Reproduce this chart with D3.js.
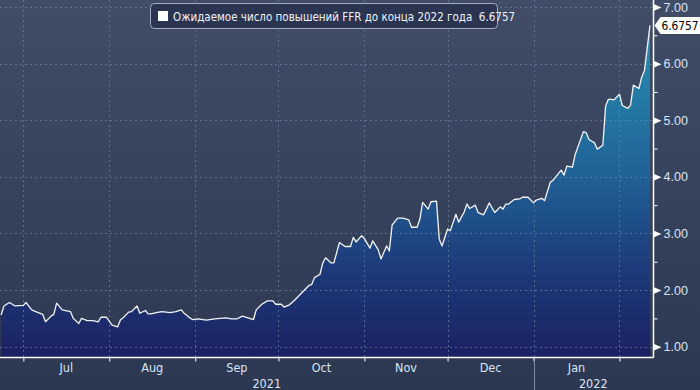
<!DOCTYPE html>
<html>
<head>
<meta charset="utf-8">
<script src="https://cdn.jsdelivr.net/npm/d3@7"></script>
<style>
    html, body { margin: 0; padding: 0; background: #323d57; }
    #chart { width: 700px; height: 390px; }
</style>
</head>
<body>
<div id="chart"></div>
<script>
// chart values
var dates = [
    "2021-06-23", "2021-06-24", "2021-06-26", "2021-06-28", "2021-07-01", "2021-07-02", "2021-07-04", "2021-07-05",
    "2021-07-08", "2021-07-09", "2021-07-11", "2021-07-12", "2021-07-13", "2021-07-15", "2021-07-18", "2021-07-19",
    "2021-07-21", "2021-07-22", "2021-07-24", "2021-07-26", "2021-07-28", "2021-07-29", "2021-07-31",
    "2021-08-02", "2021-08-04", "2021-08-05", "2021-08-06", "2021-08-08", "2021-08-09", "2021-08-11", "2021-08-12",
    "2021-08-14", "2021-08-15", "2021-08-16", "2021-08-18", "2021-08-20", "2021-08-23", "2021-08-25", "2021-08-27",
    "2021-08-28", "2021-08-30", "2021-08-31",
    "2021-09-02", "2021-09-05", "2021-09-08", "2021-09-12", "2021-09-14", "2021-09-16", "2021-09-18", "2021-09-20",
    "2021-09-22", "2021-09-23", "2021-09-25", "2021-09-27", "2021-09-29", "2021-09-30",
    "2021-10-02", "2021-10-03", "2021-10-05", "2021-10-07", "2021-10-09", "2021-10-12", "2021-10-13", "2021-10-14",
    "2021-10-16", "2021-10-17", "2021-10-18", "2021-10-20", "2021-10-21", "2021-10-23", "2021-10-25", "2021-10-27",
    "2021-10-28", "2021-10-29", "2021-10-31",
    "2021-11-01", "2021-11-03", "2021-11-04", "2021-11-06", "2021-11-07", "2021-11-09", "2021-11-10", "2021-11-11",
    "2021-11-13", "2021-11-15", "2021-11-17", "2021-11-18", "2021-11-20", "2021-11-21", "2021-11-22", "2021-11-24",
    "2021-11-25", "2021-11-27", "2021-11-28", "2021-11-29",
    "2021-12-01", "2021-12-02", "2021-12-04", "2021-12-05", "2021-12-07", "2021-12-08", "2021-12-09", "2021-12-11",
    "2021-12-12", "2021-12-14", "2021-12-15", "2021-12-16", "2021-12-18", "2021-12-19", "2021-12-20", "2021-12-21",
    "2021-12-22", "2021-12-23", "2021-12-25", "2021-12-27", "2021-12-28", "2021-12-30",
    "2022-01-01", "2022-01-02", "2022-01-04", "2022-01-05", "2022-01-07", "2022-01-08", "2022-01-09", "2022-01-11",
    "2022-01-12", "2022-01-13", "2022-01-15", "2022-01-16", "2022-01-17", "2022-01-19", "2022-01-20", "2022-01-21",
    "2022-01-23", "2022-01-24", "2022-01-26", "2022-01-27", "2022-01-28", "2022-01-29", "2022-01-30",
    "2022-02-01", "2022-02-02", "2022-02-04", "2022-02-05", "2022-02-06", "2022-02-08", "2022-02-09", "2022-02-10",
    "2022-02-12"
];

var hikes = [
    1.56, 1.72, 1.78, 1.72, 1.73, 1.78, 1.65, 1.63, 1.57, 1.44, 1.54, 1.57, 1.77, 1.65, 1.62, 1.50,
    1.41, 1.50, 1.46, 1.46, 1.44, 1.52, 1.52,
    1.38, 1.35, 1.47, 1.51, 1.61, 1.62, 1.72, 1.59, 1.64, 1.58, 1.58, 1.60, 1.62, 1.60, 1.62, 1.65,
    1.59, 1.51, 1.48,
    1.49, 1.47, 1.49, 1.51, 1.49, 1.49, 1.54, 1.51, 1.48, 1.65, 1.75, 1.81, 1.81, 1.75,
    1.75, 1.70, 1.74, 1.83, 1.93, 2.08, 2.10, 2.22, 2.28, 2.48, 2.57, 2.48, 2.48, 2.84, 2.77, 2.77,
    2.93, 2.85, 2.96,
    2.91, 2.74, 2.87, 2.71, 2.55, 2.78, 2.69, 3.15, 3.27, 3.27, 3.24, 3.11, 3.11, 3.25, 3.55, 3.43,
    3.56, 3.57, 2.90, 2.78,
    3.08, 3.05, 3.34, 3.20, 3.38, 3.52, 3.44, 3.50, 3.37, 3.33, 3.43, 3.54, 3.37, 3.42, 3.47, 3.43,
    3.52, 3.52, 3.60, 3.61, 3.64, 3.64,
    3.54, 3.59, 3.62, 3.58, 3.90, 3.94, 4.00, 4.12, 4.03, 4.19, 4.17, 4.39, 4.53, 4.80, 4.78, 4.66,
    4.60, 4.49, 4.56, 5.25, 5.37, 5.37, 5.36,
    5.46, 5.26, 5.21, 5.27, 5.62, 5.56, 5.76, 5.88, 6.6757
];

var seriesName = "Ожидаемое число повышений FFR до конца 2022 года";
var yTicks = [1, 2, 3, 4, 5, 6, 7];
var monthTicks = ["2021-07-01", "2021-08-01", "2021-09-01", "2021-10-01", "2021-11-01", "2021-12-01", "2022-01-01", "2022-02-01"];
var monthLabels = ["Jul", "Aug", "Sep", "Oct", "Nov", "Dec", "Jan"];
var years = ["2021", "2022"];

function chart() {

    var width = 700,
        height = 390,
        plotW = 653,
        plotH = 357;

    var parse = d3.timeParse("%Y-%m-%d");
    var data = dates.map(function (d, i) {
        return { date: parse(d), value: hikes[i] };
    });
    var last = data[data.length - 1];

    var svg = d3.select("#chart")
        .append("svg")
        .attr("width", width)
        .attr("height", height)
        .style("font-family", "'DejaVu Sans Condensed', 'DejaVu Sans', sans-serif");

    var defs = svg.append("defs");

    var bg = defs.append("linearGradient")
        .attr("id", "bg")
        .attr("x1", 0).attr("y1", 0).attr("x2", 0).attr("y2", 1);
    bg.append("stop").attr("offset", "0%").attr("stop-color", "#414c67");
    bg.append("stop").attr("offset", "100%").attr("stop-color", "#2c3852");

    var areaFill = defs.append("linearGradient")
        .attr("id", "areaFill")
        .attr("gradientUnits", "userSpaceOnUse")
        .attr("x1", 0).attr("y1", 0).attr("x2", 0).attr("y2", plotH);
    areaFill.append("stop").attr("offset", "0%").attr("stop-color", "#2b97b6");
    areaFill.append("stop").attr("offset", "45%").attr("stop-color", "#21679a");
    areaFill.append("stop").attr("offset", "75%").attr("stop-color", "#1d3b7a");
    areaFill.append("stop").attr("offset", "100%").attr("stop-color", "#1b2163");

    svg.append("rect")
        .attr("width", width)
        .attr("height", height)
        .attr("fill", "url(#bg)");

    var x = d3.scaleTime()
        .domain([new Date(2021, 5, 22, 14), new Date(2022, 1, 13, 2)])
        .range([0, plotW]);

    var y = d3.scaleLinear()
        .domain([0.818, 7.124])
        .range([plotH, 0]);

    var area = d3.area()
        .x(function (d) { return x(d.date); })
        .y0(plotH)
        .y1(function (d) { return y(d.value); });

    var line = d3.line()
        .x(function (d) { return x(d.date); })
        .y(function (d) { return y(d.value); });

    svg.append("path")
        .datum(data)
        .attr("d", area)
        .attr("fill", "url(#areaFill)");

    // dashed grid
    var grid = svg.append("g")
        .attr("stroke", "#6a8aa6")
        .attr("stroke-opacity", 0.65)
        .attr("stroke-width", 1)
        .attr("stroke-dasharray", "2,3");

    grid.selectAll(".hgrid")
        .data(yTicks)
        .enter()
        .append("line")
        .attr("x1", 0)
        .attr("x2", plotW)
        .attr("y1", function (d) { return Math.round(y(d)) + 0.5; })
        .attr("y2", function (d) { return Math.round(y(d)) + 0.5; });

    grid.selectAll(".vgrid")
        .data(monthTicks.map(parse))
        .enter()
        .append("line")
        .attr("x1", function (d) { return Math.round(x(d)) + 0.5; })
        .attr("x2", function (d) { return Math.round(x(d)) + 0.5; })
        .attr("y1", 0)
        .attr("y2", plotH);

    svg.append("path")
        .datum(data)
        .attr("d", line)
        .attr("fill", "none")
        .attr("stroke", "#f2f4f8")
        .attr("stroke-width", 1.3)
        .attr("stroke-linejoin", "round");

    // frame lines
    svg.append("line")
        .attr("x1", 0).attr("x2", plotW + 0.5)
        .attr("y1", plotH + 0.5).attr("y2", plotH + 0.5)
        .attr("stroke", "#ffffff").attr("stroke-width", 1.5);
    svg.append("line")
        .attr("x1", plotW + 0.5).attr("x2", plotW + 0.5)
        .attr("y1", 0).attr("y2", plotH + 0.5)
        .attr("stroke", "#ffffff").attr("stroke-width", 1.5);

    // right axis
    var yAxis = d3.axisRight(y)
        .tickValues(d3.range(1, 7.01, 0.5))
        .tickSize(4)
        .tickFormat(function (d) { return d % 1 === 0 ? d3.format(".2f")(d) : ""; });

    var ya = svg.append("g")
        .attr("transform", "translate(" + (plotW + 0.5) + ",0)")
        .call(yAxis);
    ya.select(".domain").remove();
    ya.selectAll(".tick line").attr("stroke", "#ffffff");
    ya.selectAll(".tick text")
        .attr("x", 10)
        .attr("fill", "#d9e5f5")
        .style("font-size", "12.5px");

    ya.selectAll(".tick")
        .filter(function (d) { return d % 1 === 0; })
        .append("path")
        .attr("d", "M0,-3.5L8,0L0,3.5Z")
        .attr("fill", "#ffffff");

    // bottom axis
    var xAxis = d3.axisBottom(x)
        .tickValues(monthTicks.map(parse))
        .tickSize(4)
        .tickFormat("");

    var xa = svg.append("g")
        .attr("transform", "translate(0," + (plotH + 0.5) + ")")
        .call(xAxis);
    xa.select(".domain").remove();
    xa.selectAll(".tick line").attr("stroke", "#ffffff");

    var monthStarts = monthTicks.map(parse);
    svg.append("g")
        .selectAll("text")
        .data(monthLabels)
        .enter()
        .append("text")
        .attr("x", function (d, i) { return (x(monthStarts[i]) + x(monthStarts[i + 1])) / 2; })
        .attr("y", 372)
        .attr("text-anchor", "middle")
        .attr("fill", "#d9e5f5")
        .style("font-size", "12.5px")
        .text(function (d) { return d; });

    var yearEdges = [0, x(parse("2022-01-01")), plotW];
    svg.append("g")
        .selectAll("text")
        .data(years)
        .enter()
        .append("text")
        .attr("x", function (d, i) { return (yearEdges[i] + yearEdges[i + 1]) / 2; })
        .attr("y", 388)
        .attr("text-anchor", "middle")
        .attr("fill", "#d9e5f5")
        .style("font-size", "12.5px")
        .text(function (d) { return d; });

    svg.append("line")
        .attr("x1", Math.round(yearEdges[1]) + 0.5)
        .attr("x2", Math.round(yearEdges[1]) + 0.5)
        .attr("y1", 362)
        .attr("y2", height)
        .attr("stroke", "#7d8ba3");

    // last value tag
    var ty = y(last.value);
    var tag = svg.append("g")
        .attr("transform", "translate(" + (plotW + 1.5) + "," + ty + ")");
    tag.append("path")
        .attr("d", "M0,0L6,-8.5L45.5,-8.5L45.5,8.5L6,8.5Z")
        .attr("fill", "#ffffff");
    tag.append("text")
        .attr("x", 7)
        .attr("y", 4.3)
        .attr("fill", "#000000")
        .style("font-size", "11.8px")
        .text(d3.format(".4f")(last.value));

    // legend
    var legend = svg.append("g")
        .attr("class", "legend");
    legend.append("rect")
        .attr("x", 150.5)
        .attr("y", 3.5)
        .attr("width", 347)
        .attr("height", 25)
        .attr("rx", 4)
        .attr("fill", "#2b3551")
        .attr("stroke", "#a3adbf");
    legend.append("rect")
        .attr("x", 158)
        .attr("y", 11)
        .attr("width", 10)
        .attr("height", 10)
        .attr("fill", "#ffffff");
    legend.append("text")
        .attr("x", 173)
        .attr("y", 20.5)
        .attr("fill", "#eef2f8")
        .style("font-size", "11.5px")
        .style("white-space", "pre")
        .text(seriesName + "  " + d3.format(".4f")(last.value));
}

chart();
</script>
</body>
</html>
